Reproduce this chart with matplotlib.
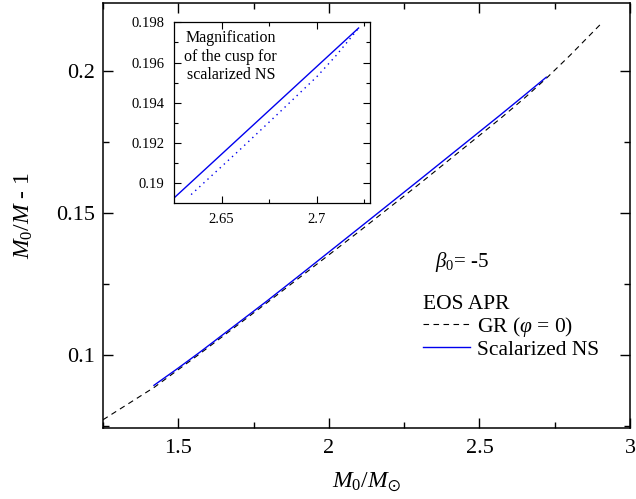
"""Binding energy M0/M - 1 vs baryon mass, EOS APR, beta0 = -5."""

import matplotlib
matplotlib.use('Agg')
import matplotlib.pyplot as plt
import matplotlib.ticker as tkr

plt.rcParams['font.family'] = ['Liberation Serif', 'DejaVu Serif']
plt.rcParams['mathtext.fontset'] = 'custom'
plt.rcParams['mathtext.rm'] = 'Liberation Serif'
plt.rcParams['mathtext.it'] = 'Liberation Serif:italic'
plt.rcParams['mathtext.bf'] = 'Liberation Serif:bold'
plt.rcParams['mathtext.fallback'] = 'stix'

# GR branch (phi = 0)
gr_x = [1.25, 1.42, 1.57, 1.79, 1.90, 2.10, 2.30, 2.57, 2.65, 2.722, 2.80, 2.90]
gr_y = [0.0772, 0.0886, 0.1003, 0.1180, 0.1270, 0.1434, 0.1601, 0.1832, 0.1904, 0.1973, 0.2053, 0.2161]

# scalarized NS branch
sc_x = [1.419, 1.50, 1.572, 1.7935, 1.904, 2.10, 2.30, 2.568, 2.65, 2.722]
sc_y = [0.0893, 0.0954, 0.1010, 0.1189, 0.1281, 0.1446, 0.1615, 0.1843, 0.1914, 0.1977]

# inset: cusp region
in_solid_x = [2.625, 2.722]
in_solid_y = [0.18925, 0.19772]
in_dot_x = [2.634, 2.66, 2.68, 2.70, 2.71, 2.718, 2.722]
in_dot_y = [0.18942, 0.19169, 0.19348, 0.19529, 0.19633, 0.19725, 0.19772]

fig = plt.figure(figsize=(6.36, 4.99), dpi=100)
ax = fig.add_axes([0.162, 0.1423, 0.8286, 0.8517])

ax.plot(gr_x, gr_y, color='black', lw=0.8, ls=(0, (5, 4)), label=r'GR ($\varphi$ = 0)')
ax.plot(sc_x, sc_y, color='#0000ee', lw=1.0, label='Scalarized NS')

ax.set_xlim(1.25, 3.0)
ax.set_ylim(0.0743, 0.2238)
ax.xaxis.set_major_locator(tkr.MultipleLocator(0.5))
ax.xaxis.set_minor_locator(tkr.MultipleLocator(0.25))
ax.yaxis.set_major_locator(tkr.MultipleLocator(0.05))
ax.yaxis.set_minor_locator(tkr.MultipleLocator(0.025))
fmt = tkr.FuncFormatter(lambda v, p: '%g' % round(v, 4))
ax.xaxis.set_major_formatter(fmt)
ax.yaxis.set_major_formatter(fmt)
ax.tick_params(which='both', direction='in', top=True, right=True, width=1.0)
ax.tick_params(which='major', length=7, labelsize=16, pad=6)
ax.tick_params(axis='x', which='major', pad=8)
ax.tick_params(which='minor', length=4)
for s in ax.spines.values():
    s.set_linewidth(1.1)

ax.set_xlabel(r'$M_{\mathit{0}}/M_{\odot}$', fontsize=17, labelpad=9)
ax.set_ylabel(r'$M_{\mathit{0}}/M$ - 1', fontsize=17, labelpad=15)

ax.text(0.63, 0.39, r'$\beta_{\mathit{0}}$= -5', transform=ax.transAxes,
        fontsize=15, va='center', ha='left')

leg = ax.legend(title='EOS APR', loc='upper left', bbox_to_anchor=(0.607, 0.314),
                frameon=False, fontsize=15.5, title_fontsize=15.5,
                alignment='left', borderpad=0, borderaxespad=0,
                handlelength=2.2, handletextpad=0.3, labelspacing=0.05)

# inset
ins = fig.add_axes([0.2736, 0.5932, 0.3082, 0.3627])
ins.plot(in_solid_x, in_solid_y, color='#0000ee', lw=1.0)
ins.plot(in_dot_x, in_dot_y, color='#0000ee', lw=1.0, ls=(0, (1, 3)))
ins.set_xlim(2.625, 2.728)
ins.set_ylim(0.189, 0.19802)
ins.xaxis.set_major_locator(tkr.FixedLocator([2.65, 2.7]))
ins.xaxis.set_minor_locator(tkr.FixedLocator([2.675, 2.725]))
ins.yaxis.set_major_locator(tkr.FixedLocator([0.19, 0.192, 0.194, 0.196, 0.198]))
ins.yaxis.set_minor_locator(tkr.FixedLocator([0.191, 0.193, 0.195, 0.197]))
ins.xaxis.set_major_formatter(fmt)
ins.yaxis.set_major_formatter(fmt)
ins.tick_params(which='both', direction='in', top=True, right=True, width=0.8)
ins.tick_params(which='major', length=5, labelsize=10.5, pad=7)
ins.tick_params(which='minor', length=3)
for s in ins.spines.values():
    s.set_linewidth(0.9)
ins.text(0.29, 0.955, 'Magnification\nof the cusp for\nscalarized NS',
         transform=ins.transAxes, ha='center', va='top', fontsize=11.5,
         linespacing=1.2)

fig.savefig('out.png', dpi=100)
